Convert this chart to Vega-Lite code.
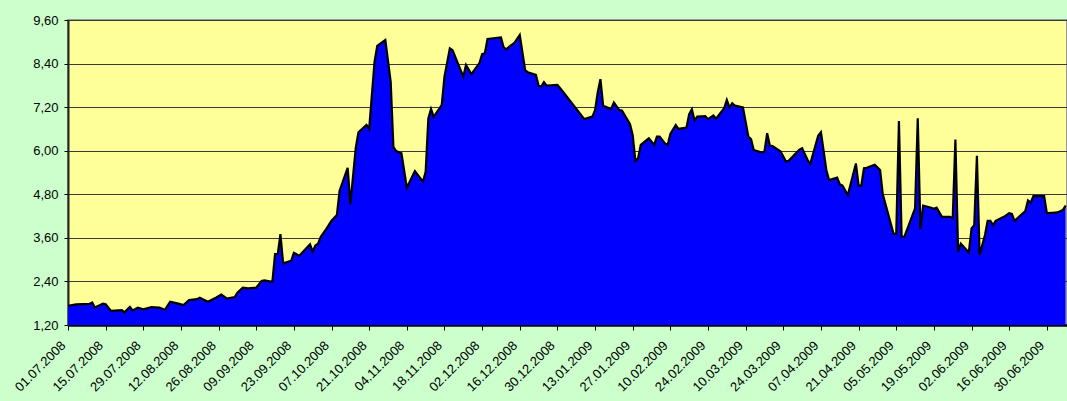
{
  "$schema": "https://vega.github.io/schema/vega-lite/v6.json",
  "width": 999,
  "height": 305,
  "autosize": {"type": "none"},
  "padding": {"left": 68, "top": 20, "right": 0, "bottom": 76},
  "background": "#CCFFCC",
  "config": {
    "view": {"fill": "#FFFF99", "stroke": "#999999", "strokeWidth": 2},
    "font": "Liberation Sans"
  },
  "data": {"values": [
    {"date": "2008-07-01", "price": 1.73}, {"date": "2008-07-04", "price": 1.77}, {"date": "2008-07-09", "price": 1.78},
    {"date": "2008-07-10", "price": 1.82}, {"date": "2008-07-11", "price": 1.68}, {"date": "2008-07-14", "price": 1.79},
    {"date": "2008-07-15", "price": 1.77}, {"date": "2008-07-17", "price": 1.59}, {"date": "2008-07-21", "price": 1.61},
    {"date": "2008-07-22", "price": 1.55}, {"date": "2008-07-24", "price": 1.70}, {"date": "2008-07-25", "price": 1.60},
    {"date": "2008-07-27", "price": 1.68}, {"date": "2008-07-29", "price": 1.63}, {"date": "2008-08-01", "price": 1.69},
    {"date": "2008-08-04", "price": 1.68}, {"date": "2008-08-06", "price": 1.62}, {"date": "2008-08-08", "price": 1.84},
    {"date": "2008-08-11", "price": 1.79}, {"date": "2008-08-13", "price": 1.75}, {"date": "2008-08-15", "price": 1.89},
    {"date": "2008-08-18", "price": 1.91}, {"date": "2008-08-19", "price": 1.95}, {"date": "2008-08-22", "price": 1.84},
    {"date": "2008-08-25", "price": 1.95}, {"date": "2008-08-27", "price": 2.04}, {"date": "2008-08-29", "price": 1.93},
    {"date": "2008-09-01", "price": 1.97}, {"date": "2008-09-02", "price": 2.09}, {"date": "2008-09-04", "price": 2.23},
    {"date": "2008-09-06", "price": 2.21}, {"date": "2008-09-09", "price": 2.23}, {"date": "2008-09-11", "price": 2.41},
    {"date": "2008-09-12", "price": 2.43}, {"date": "2008-09-15", "price": 2.39}, {"date": "2008-09-16", "price": 3.15},
    {"date": "2008-09-17", "price": 3.15}, {"date": "2008-09-18", "price": 3.70}, {"date": "2008-09-19", "price": 2.90},
    {"date": "2008-09-22", "price": 2.97}, {"date": "2008-09-23", "price": 3.19}, {"date": "2008-09-25", "price": 3.11},
    {"date": "2008-09-29", "price": 3.42}, {"date": "2008-09-30", "price": 3.22}, {"date": "2008-10-01", "price": 3.39},
    {"date": "2008-10-02", "price": 3.44}, {"date": "2008-10-03", "price": 3.63}, {"date": "2008-10-05", "price": 3.84},
    {"date": "2008-10-07", "price": 4.07}, {"date": "2008-10-09", "price": 4.23}, {"date": "2008-10-10", "price": 4.90},
    {"date": "2008-10-13", "price": 5.53}, {"date": "2008-10-14", "price": 4.52}, {"date": "2008-10-16", "price": 6.07},
    {"date": "2008-10-17", "price": 6.51}, {"date": "2008-10-20", "price": 6.71}, {"date": "2008-10-21", "price": 6.60},
    {"date": "2008-10-23", "price": 8.45}, {"date": "2008-10-24", "price": 8.89}, {"date": "2008-10-27", "price": 9.05},
    {"date": "2008-10-29", "price": 7.90}, {"date": "2008-10-30", "price": 6.11}, {"date": "2008-10-31", "price": 5.99},
    {"date": "2008-11-02", "price": 5.93}, {"date": "2008-11-04", "price": 4.98}, {"date": "2008-11-07", "price": 5.44},
    {"date": "2008-11-10", "price": 5.15}, {"date": "2008-11-11", "price": 5.42}, {"date": "2008-11-12", "price": 6.89},
    {"date": "2008-11-13", "price": 7.15}, {"date": "2008-11-14", "price": 6.93}, {"date": "2008-11-17", "price": 7.26},
    {"date": "2008-11-18", "price": 8.04}, {"date": "2008-11-20", "price": 8.82}, {"date": "2008-11-21", "price": 8.77},
    {"date": "2008-11-25", "price": 8.04}, {"date": "2008-11-26", "price": 8.36}, {"date": "2008-11-28", "price": 8.11},
    {"date": "2008-12-01", "price": 8.41}, {"date": "2008-12-02", "price": 8.66}, {"date": "2008-12-03", "price": 8.68},
    {"date": "2008-12-04", "price": 9.08}, {"date": "2008-12-09", "price": 9.12}, {"date": "2008-12-10", "price": 8.85},
    {"date": "2008-12-11", "price": 8.79}, {"date": "2008-12-12", "price": 8.86}, {"date": "2008-12-14", "price": 8.97},
    {"date": "2008-12-16", "price": 9.19}, {"date": "2008-12-18", "price": 8.22}, {"date": "2008-12-19", "price": 8.16},
    {"date": "2008-12-22", "price": 8.09}, {"date": "2008-12-23", "price": 7.79}, {"date": "2008-12-24", "price": 7.77},
    {"date": "2008-12-25", "price": 7.89}, {"date": "2008-12-26", "price": 7.79}, {"date": "2008-12-30", "price": 7.81},
    {"date": "2009-01-01", "price": 7.63}, {"date": "2009-01-09", "price": 6.87}, {"date": "2009-01-12", "price": 6.94},
    {"date": "2009-01-13", "price": 7.12}, {"date": "2009-01-14", "price": 7.61}, {"date": "2009-01-15", "price": 7.97},
    {"date": "2009-01-16", "price": 7.24}, {"date": "2009-01-19", "price": 7.15}, {"date": "2009-01-20", "price": 7.33},
    {"date": "2009-01-22", "price": 7.12}, {"date": "2009-01-23", "price": 7.11}, {"date": "2009-01-26", "price": 6.73},
    {"date": "2009-01-27", "price": 6.43}, {"date": "2009-01-28", "price": 5.72}, {"date": "2009-01-29", "price": 5.79},
    {"date": "2009-01-30", "price": 6.16}, {"date": "2009-02-02", "price": 6.34}, {"date": "2009-02-04", "price": 6.16},
    {"date": "2009-02-05", "price": 6.39}, {"date": "2009-02-06", "price": 6.39}, {"date": "2009-02-08", "price": 6.20},
    {"date": "2009-02-09", "price": 6.16}, {"date": "2009-02-10", "price": 6.46}, {"date": "2009-02-12", "price": 6.71},
    {"date": "2009-02-13", "price": 6.60}, {"date": "2009-02-16", "price": 6.64}, {"date": "2009-02-17", "price": 7.01},
    {"date": "2009-02-18", "price": 7.14}, {"date": "2009-02-19", "price": 6.83}, {"date": "2009-02-20", "price": 6.94},
    {"date": "2009-02-23", "price": 6.95}, {"date": "2009-02-24", "price": 6.87}, {"date": "2009-02-26", "price": 6.97},
    {"date": "2009-02-27", "price": 6.88}, {"date": "2009-03-02", "price": 7.17}, {"date": "2009-03-03", "price": 7.40},
    {"date": "2009-03-04", "price": 7.19}, {"date": "2009-03-05", "price": 7.31}, {"date": "2009-03-06", "price": 7.24},
    {"date": "2009-03-09", "price": 7.19}, {"date": "2009-03-11", "price": 6.39}, {"date": "2009-03-12", "price": 6.32},
    {"date": "2009-03-13", "price": 6.02}, {"date": "2009-03-16", "price": 5.95}, {"date": "2009-03-17", "price": 5.98},
    {"date": "2009-03-18", "price": 6.48}, {"date": "2009-03-19", "price": 6.14}, {"date": "2009-03-20", "price": 6.13},
    {"date": "2009-03-23", "price": 5.98}, {"date": "2009-03-25", "price": 5.70}, {"date": "2009-03-26", "price": 5.72},
    {"date": "2009-03-30", "price": 6.03}, {"date": "2009-03-31", "price": 6.07}, {"date": "2009-04-02", "price": 5.75},
    {"date": "2009-04-03", "price": 5.63}, {"date": "2009-04-06", "price": 6.42}, {"date": "2009-04-07", "price": 6.51},
    {"date": "2009-04-09", "price": 5.47}, {"date": "2009-04-10", "price": 5.19}, {"date": "2009-04-13", "price": 5.26},
    {"date": "2009-04-14", "price": 5.08}, {"date": "2009-04-15", "price": 5.04}, {"date": "2009-04-17", "price": 4.78},
    {"date": "2009-04-20", "price": 5.65}, {"date": "2009-04-21", "price": 5.04}, {"date": "2009-04-22", "price": 5.04},
    {"date": "2009-04-23", "price": 5.52}, {"date": "2009-04-24", "price": 5.53}, {"date": "2009-04-27", "price": 5.61},
    {"date": "2009-04-29", "price": 5.47}, {"date": "2009-04-30", "price": 4.80}, {"date": "2009-05-04", "price": 3.71},
    {"date": "2009-05-05", "price": 3.71}, {"date": "2009-05-06", "price": 6.82}, {"date": "2009-05-07", "price": 3.63},
    {"date": "2009-05-08", "price": 3.63}, {"date": "2009-05-12", "price": 4.41}, {"date": "2009-05-13", "price": 6.89},
    {"date": "2009-05-14", "price": 3.84}, {"date": "2009-05-15", "price": 4.49}, {"date": "2009-05-18", "price": 4.43},
    {"date": "2009-05-19", "price": 4.40}, {"date": "2009-05-20", "price": 4.43}, {"date": "2009-05-22", "price": 4.18},
    {"date": "2009-05-25", "price": 4.18}, {"date": "2009-05-26", "price": 4.14}, {"date": "2009-05-27", "price": 6.31},
    {"date": "2009-05-28", "price": 3.22}, {"date": "2009-05-29", "price": 3.44}, {"date": "2009-06-01", "price": 3.20},
    {"date": "2009-06-02", "price": 3.86}, {"date": "2009-06-03", "price": 3.95}, {"date": "2009-06-04", "price": 5.86},
    {"date": "2009-06-05", "price": 3.13}, {"date": "2009-06-07", "price": 3.68}, {"date": "2009-06-08", "price": 4.07},
    {"date": "2009-06-09", "price": 4.07}, {"date": "2009-06-10", "price": 3.95}, {"date": "2009-06-11", "price": 4.07},
    {"date": "2009-06-14", "price": 4.18}, {"date": "2009-06-16", "price": 4.28}, {"date": "2009-06-17", "price": 4.26},
    {"date": "2009-06-18", "price": 4.07}, {"date": "2009-06-22", "price": 4.34}, {"date": "2009-06-23", "price": 4.63},
    {"date": "2009-06-24", "price": 4.57}, {"date": "2009-06-25", "price": 4.75}, {"date": "2009-06-29", "price": 4.75},
    {"date": "2009-06-30", "price": 4.28}, {"date": "2009-07-02", "price": 4.29}, {"date": "2009-07-04", "price": 4.30},
    {"date": "2009-07-06", "price": 4.37}, {"date": "2009-07-07", "price": 4.49}
  ]},
  "mark": {"type": "area", "color": "#0000FF", "opacity": 1, "clip": true, "line": {"color": "#000000", "strokeWidth": 2.2}},
  "encoding": {
    "x": {
      "field": "date", "type": "temporal",
      "scale": {"type": "utc", "domain": [{"year": 2008, "month": 7, "date": 1, "utc": true}, {"year": 2009, "month": 7, "date": 7, "hours": 12, "utc": true}]},
      "axis": {
        "title": null, "grid": false,
        "values": [
          {"year": 2008, "month": 7, "date": 1, "utc": true}, {"year": 2008, "month": 7, "date": 15, "utc": true},
          {"year": 2008, "month": 7, "date": 29, "utc": true}, {"year": 2008, "month": 8, "date": 12, "utc": true},
          {"year": 2008, "month": 8, "date": 26, "utc": true}, {"year": 2008, "month": 9, "date": 9, "utc": true},
          {"year": 2008, "month": 9, "date": 23, "utc": true}, {"year": 2008, "month": 10, "date": 7, "utc": true},
          {"year": 2008, "month": 10, "date": 21, "utc": true}, {"year": 2008, "month": 11, "date": 4, "utc": true},
          {"year": 2008, "month": 11, "date": 18, "utc": true}, {"year": 2008, "month": 12, "date": 2, "utc": true},
          {"year": 2008, "month": 12, "date": 16, "utc": true}, {"year": 2008, "month": 12, "date": 30, "utc": true},
          {"year": 2009, "month": 1, "date": 13, "utc": true}, {"year": 2009, "month": 1, "date": 27, "utc": true},
          {"year": 2009, "month": 2, "date": 10, "utc": true}, {"year": 2009, "month": 2, "date": 24, "utc": true},
          {"year": 2009, "month": 3, "date": 10, "utc": true}, {"year": 2009, "month": 3, "date": 24, "utc": true},
          {"year": 2009, "month": 4, "date": 7, "utc": true}, {"year": 2009, "month": 4, "date": 21, "utc": true},
          {"year": 2009, "month": 5, "date": 5, "utc": true}, {"year": 2009, "month": 5, "date": 19, "utc": true},
          {"year": 2009, "month": 6, "date": 2, "utc": true}, {"year": 2009, "month": 6, "date": 16, "utc": true},
          {"year": 2009, "month": 6, "date": 30, "utc": true}
        ],
        "labelExpr": "utcFormat(datum.value, '%d.%m.%Y')",
        "labelAngle": -45, "labelAlign": "right", "labelBaseline": "middle",
        "labelFontSize": 13, "labelColor": "#000000", "labelPadding": 13, "labelOffset": -5,
        "labelOverlap": false, "labelBound": false, "labelFlush": false,
        "domainColor": "#000000", "domainWidth": 2.5,
        "tickColor": "#000000", "tickSize": 5, "tickWidth": 1
      }
    },
    "y": {
      "field": "price", "type": "quantitative",
      "scale": {"domain": [1.2, 9.6], "zero": false, "nice": false},
      "axis": {
        "title": null,
        "values": [1.2, 2.4, 3.6, 4.8, 6.0, 7.2, 8.4, 9.6],
        "labelExpr": "replace(format(datum.value, '.2f'), '.', ',')",
        "labelFontSize": 13, "labelColor": "#000000", "labelPadding": 6,
        "gridColor": "#3a3a3a", "gridWidth": 1, "gridOpacity": 1,
        "domainColor": "#222222", "domainWidth": 2,
        "tickColor": "#000000", "tickSize": 4, "tickWidth": 1
      }
    }
  }
}
